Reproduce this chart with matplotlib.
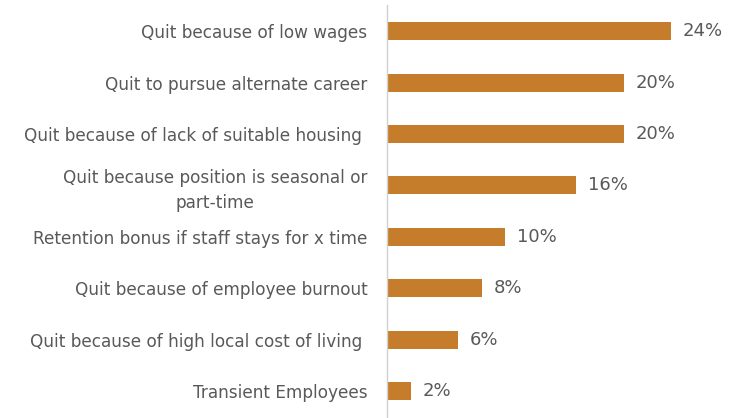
import matplotlib.pyplot as plt

# reasons, top to bottom
labels = [
    "Quit because of low wages",
    "Quit to pursue alternate career",
    "Quit because of lack of suitable housing ",
    "Quit because position is seasonal or\npart-time",
    "Retention bonus if staff stays for x time",
    "Quit because of employee burnout",
    "Quit because of high local cost of living ",
    "Transient Employees",
]
values = [24, 20, 20, 16, 10, 8, 6, 2]

bar_color = "#C57D2C"
text_color = "#595959"

fig = plt.figure(figsize=(7.33, 4.18), dpi=100)
ax = fig.add_axes([0.528, 0.003, 0.462, 0.984])

pos = list(range(len(labels)))[::-1]
ax.barh(pos, values, height=0.35, color=bar_color)

for p, v in zip(pos, values):
    ax.text(v + 1.0, p, f"{v}%", va="center", ha="left",
            fontsize=13, color=text_color)

ax.set_yticks(pos)
ax.set_yticklabels(labels, fontsize=12.2, color=text_color,
                   multialignment="center", linespacing=1.5)
ax.tick_params(axis="y", length=0, pad=14)
ax.set_xticks([])
ax.set_xlim(0, 28.6)
ax.set_ylim(-0.5, 7.5)

for s in ["top", "right", "bottom"]:
    ax.spines[s].set_visible(False)
ax.spines["left"].set_color("#D0D0D0")
ax.spines["left"].set_linewidth(1)

fig.savefig("out.png", dpi=100)
